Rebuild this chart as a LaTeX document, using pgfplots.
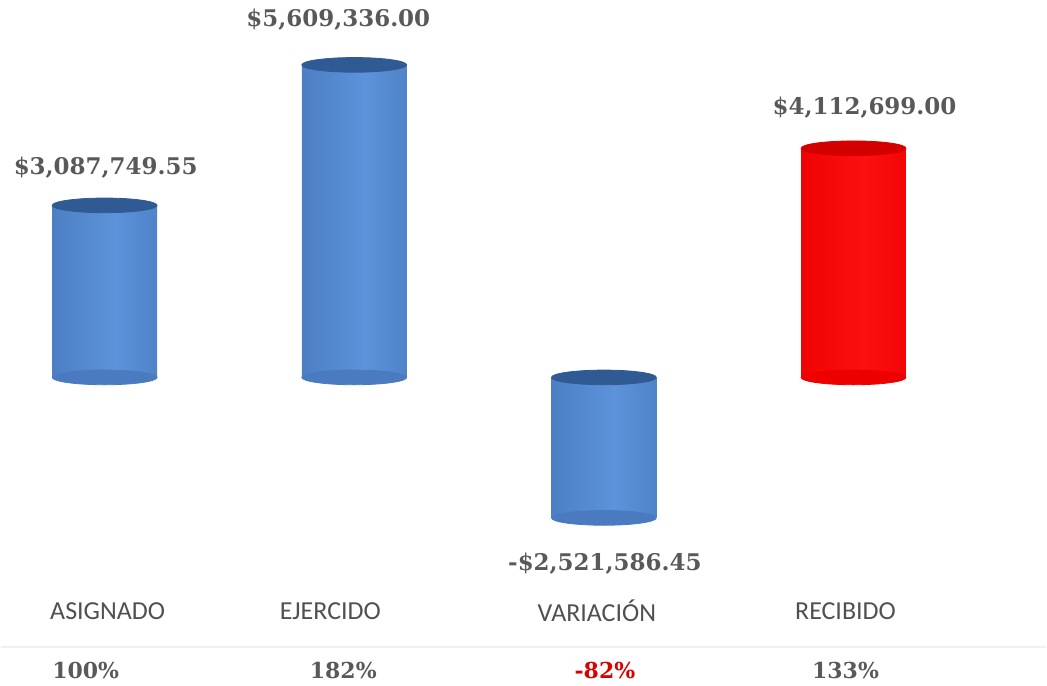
\documentclass[border=0pt]{standalone}
\usepackage{pgfplots}
\pgfplotsset{compat=1.18}
\usepackage{fontspec}
\setmainfont{Carlito}
\newfontfamily\valfont{DejaVu Serif}

\definecolor{txtgray}{HTML}{595959}
\definecolor{cbedge}{HTML}{375E9A}
\definecolor{cbmid1}{HTML}{4A7BC0}
\definecolor{cblight}{HTML}{5C93DA}
\definecolor{cbcap}{HTML}{2F5A94}
\definecolor{crdge}{HTML}{C00000}
\definecolor{crmid}{HTML}{EE0000}
\definecolor{crlight}{HTML}{FF1010}
\definecolor{crcap}{HTML}{D40000}
\pgfdeclarehorizontalshading{cylblue}{100bp}{color(0bp)=(cbedge); color(20bp)=(cbmid1); color(55bp)=(cblight); color(85bp)=(cbmid1); color(100bp)=(cbedge)}
\pgfdeclarehorizontalshading{cylred}{100bp}{color(0bp)=(crdge); color(20bp)=(crmid); color(55bp)=(crlight); color(85bp)=(crmid); color(100bp)=(crdge)}

\pgfplotsset{
  cap/.style={only marks, mark=*, mark size=26.25pt, color=#1,
    mark options={yscale=0.14, draw=none, fill=#1}},
}

\begin{document}
\begin{tikzpicture}
\begin{axis}[
  scale only axis,
  width=523.5pt, height=342.5pt,
  xmin=-0.416, xmax=3.772,
  ymin=-5.502, ymax=6.774,
  hide axis, clip=false,
  ybar, bar width=52.5pt, bar shift=0pt,
]
\path (rel axis cs:0,0) rectangle (rel axis cs:1,1);
% bottom caps (front half visible below the body)
\addplot[cap=cbmid1] coordinates {(0,0) (1,0) (2,-2.52158645)};
\addplot[cap=crmid] coordinates {(3,0)};
% bodies, one plot each so each gets its own shading
\addplot[draw=none, shading=cylblue] coordinates {(0,3.08774955)};
\addplot[draw=none, shading=cylblue] coordinates {(1,5.609336)};
\addplot[draw=none, shading=cylblue] coordinates {(2,-2.52158645)};
\addplot[draw=none, shading=cylred] coordinates {(3,4.112699)};
% top caps
\addplot[cap=cbcap] coordinates {(0,3.08774955) (1,5.609336) (2,0)};
\addplot[cap=crcap] coordinates {(3,4.112699)};

% value labels
\begin{scope}[every node/.style={font=\valfont\bfseries\fontsize{11.5}{13}\selectfont, text=txtgray}]
\node at (axis cs:0.004,3.763) {\$3,087,749.55};
\node at (axis cs:0.936,6.416) {\$5,609,336.00};
\node at (axis cs:2.004,-3.351) {-\$2,521,586.45};
\node at (axis cs:3.044,4.839) {\$4,112,699.00};
\end{scope}

% table below
\draw[black!6, line width=0.8pt] (axis cs:-0.416,-4.84) -- (axis cs:3.772,-4.84);
\begin{scope}[every node/.style={font=\fontsize{13}{15}\selectfont, text=txtgray!90!black}]
\node at (axis cs:0.012,-4.194) {ASIGNADO};
\node at (axis cs:0.904,-4.194) {EJERCIDO};
\node at (axis cs:1.972,-4.194) {VARIACIÓN};
\node at (axis cs:2.968,-4.194) {RECIBIDO};
\end{scope}
\begin{scope}[every node/.style={font=\valfont\bfseries\fontsize{11}{13}\selectfont, text=txtgray}]
\node at (axis cs:-0.076,-5.269) {100\%};
\node at (axis cs:0.956,-5.269) {182\%};
\node[text=red!85!black] at (axis cs:2.004,-5.269) {-82\%};
\node at (axis cs:2.968,-5.269) {133\%};
\end{scope}
\end{axis}
\end{tikzpicture}
\end{document}
